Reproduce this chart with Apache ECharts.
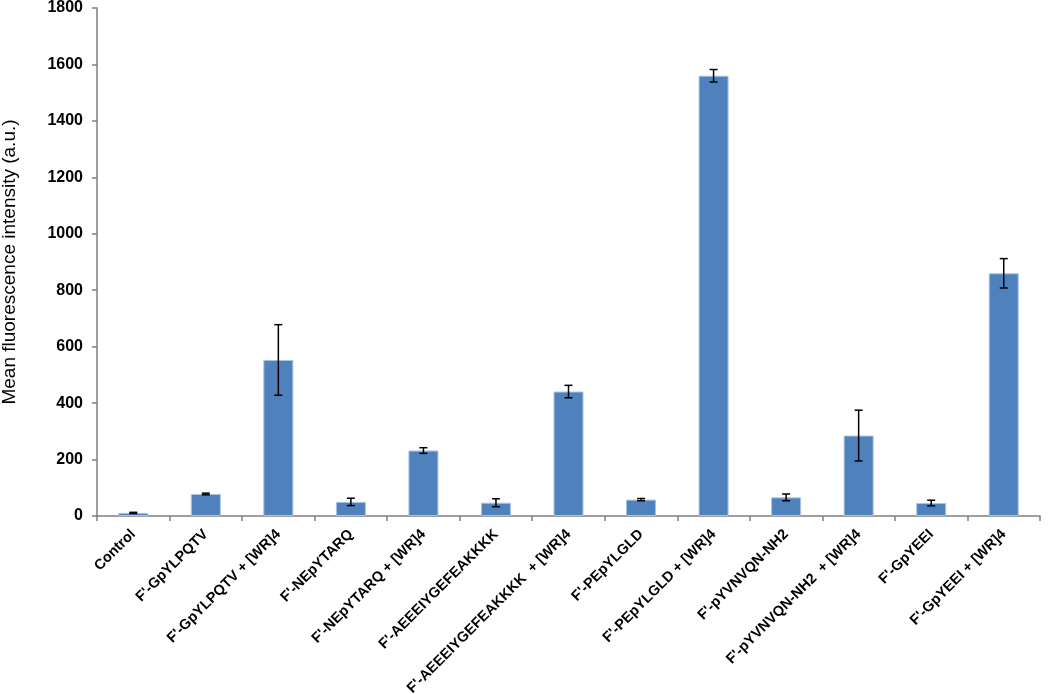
<!DOCTYPE html>
<html>
<head>
<meta charset="utf-8">
<script src="https://cdn.jsdelivr.net/npm/echarts@6/dist/echarts.min.js"></script>
<style>
  html, body { margin: 0; padding: 0; background: #fff; }
  #chart { width: 1050px; height: 694px; }
</style>
</head>
<body>
<div id="chart"></div>
<script>
// categories and values
const categories = [
  'Control',
  "F'-GpYLPQTV",
  "F'-GpYLPQTV + [WR]4",
  "F'-NEpYTARQ",
  "F'-NEpYTARQ + [WR]4",
  "F'-AEEEIYGEFEAKKKK",
  "F'-AEEEIYGEFEAKKKK  + [WR]4",
  "F'-PEpYLGLD",
  "F'-PEpYLGLD + [WR]4",
  "F'-pYVNVQN-NH2",
  "F'-pYVNVQN-NH2  + [WR]4",
  "F'-GpYEEI",
  "F'-GpYEEI + [WR]4"
];
const meanValues = [11, 78, 553, 50, 232, 47, 441, 58, 1560, 66, 285, 46, 860];
const errValues = [2, 3, 125, 13, 10, 14, 22, 4, 22, 12, 90, 10, 52];
const yTicks = [0, 200, 400, 600, 800, 1000, 1200, 1400, 1600, 1800];

const chart = echarts.init(document.getElementById('chart'));

const errData = meanValues.map((v, i) => [i, v - errValues[i], v + errValues[i]]);
const font = 'Liberation Sans, Arial, sans-serif';

chart.setOption({
  animation: false,
  grid: { left: 97, right: 10, top: 8, bottom: 178, containLabel: false, outerBoundsMode: 'none' },
  xAxis: {
    type: 'category',
    data: categories,
    axisLine: { lineStyle: { color: '#7f7f7f', width: 1.5 } },
    axisTick: { show: true, length: 5, lineStyle: { color: '#7f7f7f', width: 1.5 } },
    axisLabel: {
      interval: 0,
      rotate: 45,
      margin: 16,
      color: '#000',
      fontFamily: font,
      fontWeight: 'bold',
      fontSize: 14.5
    }
  },
  yAxis: {
    type: 'value',
    min: yTicks[0],
    max: yTicks[yTicks.length - 1],
    interval: 200,
    name: 'Mean fluorescence intensity (a.u.)',
    nameLocation: 'middle',
    nameGap: 78,
    nameTextStyle: { color: '#000', fontFamily: font, fontSize: 19 },
    splitLine: { show: false },
    axisLine: { show: true, lineStyle: { color: '#7f7f7f', width: 1.5 } },
    axisTick: { show: true, length: 5, lineStyle: { color: '#7f7f7f', width: 1.5 } },
    axisLabel: {
      color: '#000',
      margin: 14,
      fontFamily: font,
      fontWeight: 'bold',
      fontSize: 16,
      formatter: v => String(v)
    }
  },
  series: [
    {
      type: 'bar',
      data: meanValues,
      barWidth: 30,
      itemStyle: { color: '#4f81bd', borderColor: '#a9c3e3', borderWidth: 1 }
    },
    {
      type: 'custom',
      data: errData,
      z: 10,
      renderItem: function (params, api) {
        const x = api.value(0);
        const lo = api.coord([x, api.value(1)]);
        const hi = api.coord([x, api.value(2)]);
        const cap = 4;
        const style = { stroke: '#000', lineWidth: 1.5 };
        return {
          type: 'group',
          children: [
            { type: 'line', shape: { x1: lo[0], y1: lo[1], x2: hi[0], y2: hi[1] }, style: style },
            { type: 'line', shape: { x1: hi[0] - cap, y1: hi[1], x2: hi[0] + cap, y2: hi[1] }, style: style },
            { type: 'line', shape: { x1: lo[0] - cap, y1: lo[1], x2: lo[0] + cap, y2: lo[1] }, style: style }
          ]
        };
      }
    }
  ]
});
</script>
</body>
</html>
